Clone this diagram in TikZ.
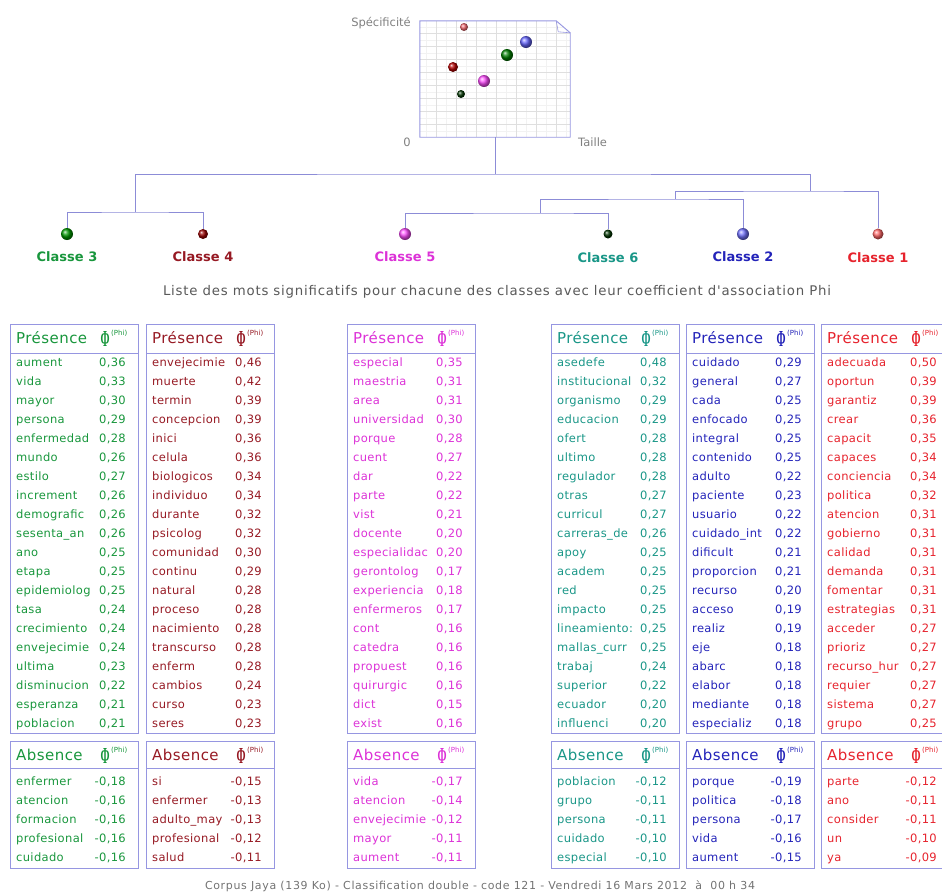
\documentclass[tikz,border=0pt]{standalone}
\usepackage{fontspec}
\setmainfont{DejaVu Sans}
\newfontfamily\tabfont[LetterSpace=3]{DejaVu Sans}
\newfontfamily\widefont[LetterSpace=6]{DejaVu Sans}
\newfontfamily\phifont{Liberation Serif}
\usetikzlibrary{positioning}

\definecolor{cl3}{RGB}{24,150,60}
\definecolor{cl4}{RGB}{150,25,35}
\definecolor{cl5}{RGB}{220,50,215}
\definecolor{cl6}{RGB}{25,150,135}
\definecolor{cl2}{RGB}{35,35,185}
\definecolor{cl1}{RGB}{230,35,45}
\definecolor{framec}{RGB}{150,150,225}
\definecolor{linkc}{RGB}{140,140,215}

\newcommand{\phiglyph}{\resizebox{9pt}{15pt}{\phifont\bfseries Φ}}

% one class: name, colour, left edge, presence words, absence words
\newcommand{\classtable}[5]{
  \draw[tabframe] (#3,324) rectangle ++(128,409);
  \draw[tabframe] (#3,353) -- ++(128,0);
  \node[head,text=#2] (#1-ph) at (#3+6,338) {Présence};
  \node[phisym,text=#2] (#1-pphi) at (#3+95,339) {\phiglyph};
  \node[phitag,text=#2] (#1-ptag) at (#3+101,333) {(Phi)};
  \foreach \w/\v [count=\i] in {#4} {
    \node[word,text=#2] (#1-pw\i) at (#3+6,363+19.05*\i-19.05) {\w};
    \node[coef,text=#2] (#1-pv\i) at (#3+116,363+19.05*\i-19.05) {\v};
  }
  \draw[tabframe] (#3,741) rectangle ++(128,127);
  \draw[tabframe] (#3,768) -- ++(128,0);
  \node[head,text=#2] (#1-ah) at (#3+6,755) {Absence};
  \node[phisym,text=#2] (#1-aphi) at (#3+95,756) {\phiglyph};
  \node[phitag,text=#2] (#1-atag) at (#3+101,750) {(Phi)};
  \foreach \w/\v [count=\i] in {#5} {
    \node[word,text=#2] (#1-aw\i) at (#3+6,782+19*\i-19) {\w};
    \node[coef,text=#2] (#1-av\i) at (#3+116,782+19*\i-19) {\v};
  }
}

\begin{document}
\begin{tikzpicture}[x=1pt,y=-1pt,
    tabframe/.style={draw=framec, line width=0.9pt},
    word/.style={anchor=west, inner sep=0pt, text height=8.5pt, text depth=2.5pt, font=\tabfont\fontsize{11.5}{12}\selectfont},
    coef/.style={anchor=east, inner sep=0pt, text height=8.5pt, text depth=2.5pt, font=\tabfont\fontsize{11.5}{12}\selectfont},
    head/.style={anchor=west, inner sep=0pt, font=\tabfont\fontsize{15}{16}\selectfont},
    phisym/.style={inner sep=0pt},
    phitag/.style={anchor=west, inner sep=0pt, font=\fontsize{7}{8}\selectfont},
    link/.style={draw=linkc, line width=0.9pt},
    gridline/.style={draw=gray!25, line width=0.5pt},
    minorline/.style={draw=gray!10, line width=0.4pt},
    leaf/.style={circle, inner sep=0pt, minimum size=#1},
    classlabel/.style={font=\bfseries\fontsize{13}{15}\selectfont},
    axislabel/.style={text=gray, font=\fontsize{11.5}{12}\selectfont, inner sep=0pt}]
  \clip (0,0) rectangle (942,895);

  % specificity / size plot
  \node[minimum width=150pt, minimum height=116pt, inner sep=0pt] (plot) at (495,79) {};
  \foreach \gx in {426,446,...,566} \draw[minorline] (\gx,21) -- (\gx,137);
  \foreach \gy in {27,40,...,131} \draw[minorline] (420,\gy) -- (570,\gy);
  \foreach \gx in {436,456,...,556} \draw[gridline] (\gx,21) -- (\gx,137);
  \foreach \gy in {33,46,...,124} \draw[gridline] (420,\gy) -- (570,\gy);
  \fill[white] ([xshift=-14pt]plot.north east) -- ([xshift=1pt,yshift=1pt]plot.north east) -- ([yshift=-12pt]plot.north east) -- cycle;
  \draw[tabframe] (plot.south east) -- (plot.south west) -- (plot.north west)
    -- ([xshift=-14pt]plot.north east) -- ([yshift=-12pt]plot.north east) -- cycle;
  \draw[tabframe, line width=0.6pt] ([xshift=-14pt]plot.north east) -- ([xshift=-12pt,yshift=-11pt]plot.north east) -- ([yshift=-12pt]plot.north east);
  \node[axislabel, anchor=east] (yname) at (411,23) {Spécificité};
  \node[axislabel, anchor=east] (origin) at (411,142) {0};
  \node[axislabel, anchor=west] (xname) at (578,142) {Taille};

  \node[leaf=8pt, ball color=cl1!70] (s1) at (464,27) {};
  \node[leaf=12pt, ball color=blue!60] (s2) at (526,42) {};
  \node[leaf=12pt, ball color=green!50!black] (s3) at (507,55) {};
  \node[leaf=10pt, ball color=red!70!black] (s4) at (453,67) {};
  \node[leaf=12pt, ball color=magenta!70] (s5) at (484,81) {};
  \node[leaf=8pt, ball color=black!80!green] (s6) at (461,94) {};

  % dendrogram
  \node[leaf=12pt, ball color=green!60!black] (c3) at (67,234) {};
  \node[leaf=10pt, ball color=red!60!black] (c4) at (203,234) {};
  \node[leaf=12pt, ball color=magenta!70] (c5) at (405,234) {};
  \node[leaf=9pt, ball color=black!80!green] (c6) at (608,234) {};
  \node[leaf=12pt, ball color=blue!55] (c2) at (743,234) {};
  \node[leaf=11pt, ball color=red!60] (c1) at (878,234) {};

  \node[classlabel, text=cl3, below=8pt of c3] (l3) {Classe 3};
  \node[classlabel, text=cl4, below=9pt of c4] (l4) {Classe 4};
  \node[classlabel, text=cl5, below=8pt of c5] (l5) {Classe 5};
  \node[classlabel, text=cl6, below=10pt of c6] (l6) {Classe 6};
  \node[classlabel, text=cl2, below=8pt of c2] (l2) {Classe 2};
  \node[classlabel, text=cl1, below=9pt of c1] (l1) {Classe 1};

  \coordinate (root) at (495,174);
  \coordinate (j34) at (135,212);
  \coordinate (jA) at (810,191);
  \coordinate (jB) at (675,199);
  \coordinate (jC) at (540,213);
  \draw[link] (plot.south) -- (root);
  \draw[link] (j34) |- (root) -| (jA);
  \draw[link] (c3) |- (j34) -| (c4);
  \draw[link] (jB) |- (jA) -| (c1);
  \draw[link] (jC) |- (jB) -| (c2);
  \draw[link] (c5) |- (jC) -| (c6);

  \node[text=black!65, font=\widefont\fontsize{13.3}{14}\selectfont] (title) at (497,292)
    {Liste des mots significatifs pour chacune des classes avec leur coefficient d'association Phi};

  % word tables
  \classtable{t3}{cl3}{10}{aument/{0,36}, vida/{0,33}, mayor/{0,30}, persona/{0,29}, enfermedad/{0,28}, mundo/{0,26}, estilo/{0,27}, increment/{0,26}, demografic/{0,26}, sesenta\_an/{0,26}, ano/{0,25}, etapa/{0,25}, epidemiolog/{0,25}, tasa/{0,24}, crecimiento/{0,24}, envejecimie/{0,24}, ultima/{0,23}, disminucion/{0,22}, esperanza/{0,21}, poblacion/{0,21}}{enfermer/{-0,18}, atencion/{-0,16}, formacion/{-0,16}, profesional/{-0,16}, cuidado/{-0,16}}
  \classtable{t4}{cl4}{146}{envejecimie/{0,46}, muerte/{0,42}, termin/{0,39}, concepcion/{0,39}, inici/{0,36}, celula/{0,36}, biologicos/{0,34}, individuo/{0,34}, durante/{0,32}, psicolog/{0,32}, comunidad/{0,30}, continu/{0,29}, natural/{0,28}, proceso/{0,28}, nacimiento/{0,28}, transcurso/{0,28}, enferm/{0,28}, cambios/{0,24}, curso/{0,23}, seres/{0,23}}{si/{-0,15}, enfermer/{-0,13}, adulto\_may/{-0,13}, profesional/{-0,12}, salud/{-0,11}}
  \classtable{t5}{cl5}{347}{especial/{0,35}, maestria/{0,31}, area/{0,31}, universidad/{0,30}, porque/{0,28}, cuent/{0,27}, dar/{0,22}, parte/{0,22}, vist/{0,21}, docente/{0,20}, especialidac/{0,20}, gerontolog/{0,17}, experiencia/{0,18}, enfermeros/{0,17}, cont/{0,16}, catedra/{0,16}, propuest/{0,16}, quirurgic/{0,16}, dict/{0,15}, exist/{0,16}}{vida/{-0,17}, atencion/{-0,14}, envejecimie/{-0,12}, mayor/{-0,11}, aument/{-0,11}}
  \classtable{t6}{cl6}{551}{asedefe/{0,48}, institucional/{0,32}, organismo/{0,29}, educacion/{0,29}, ofert/{0,28}, ultimo/{0,28}, regulador/{0,28}, otras/{0,27}, curricul/{0,27}, carreras\_de/{0,26}, apoy/{0,25}, academ/{0,25}, red/{0,25}, impacto/{0,25}, lineamiento:/{0,25}, mallas\_curr/{0,25}, trabaj/{0,24}, superior/{0,22}, ecuador/{0,20}, influenci/{0,20}}{poblacion/{-0,12}, grupo/{-0,11}, persona/{-0,11}, cuidado/{-0,10}, especial/{-0,10}}
  \classtable{t2}{cl2}{686}{cuidado/{0,29}, general/{0,27}, cada/{0,25}, enfocado/{0,25}, integral/{0,25}, contenido/{0,25}, adulto/{0,22}, paciente/{0,23}, usuario/{0,22}, cuidado\_int/{0,22}, dificult/{0,21}, proporcion/{0,21}, recurso/{0,20}, acceso/{0,19}, realiz/{0,19}, eje/{0,18}, abarc/{0,18}, elabor/{0,18}, mediante/{0,18}, especializ/{0,18}}{porque/{-0,19}, politica/{-0,18}, persona/{-0,17}, vida/{-0,16}, aument/{-0,15}}
  \classtable{t1}{cl1}{821}{adecuada/{0,50}, oportun/{0,39}, garantiz/{0,39}, crear/{0,36}, capacit/{0,35}, capaces/{0,34}, conciencia/{0,34}, politica/{0,32}, atencion/{0,31}, gobierno/{0,31}, calidad/{0,31}, demanda/{0,31}, fomentar/{0,31}, estrategias/{0,31}, acceder/{0,27}, prioriz/{0,27}, recurso\_hur/{0,27}, requier/{0,27}, sistema/{0,27}, grupo/{0,25}}{parte/{-0,12}, ano/{-0,11}, consider/{-0,11}, un/{-0,10}, ya/{-0,09}}

  \node[text=black!55, font=\widefont\fontsize{11}{12}\selectfont] (footer) at (480,886)
    {Corpus Jaya (139 Ko) - Classification double - code 121 - Vendredi 16 Mars 2012~~à~~00 h 34};
\end{tikzpicture}
\end{document}
